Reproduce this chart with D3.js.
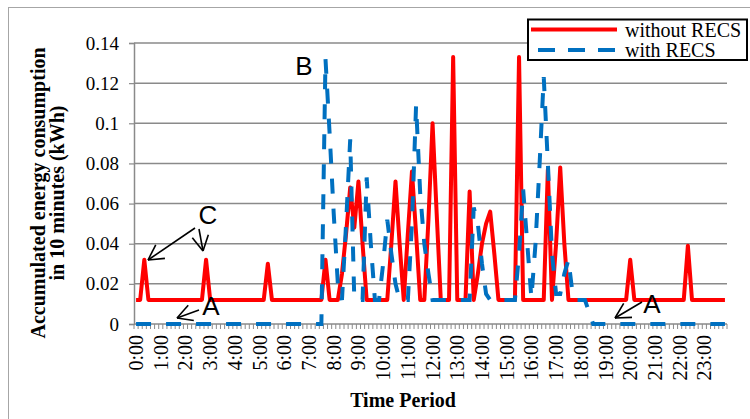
<!DOCTYPE html>
<html><head><meta charset="utf-8">
<script src="https://cdn.jsdelivr.net/npm/d3@7"></script>
<style>body{margin:0;background:#fff;} svg{display:block;}</style>
</head><body>
<svg id="chart" width="750" height="419"></svg>
<script>
// ---- data ----
const hourLabels = ["0:00","1:00","2:00","3:00","4:00","5:00","6:00","7:00","8:00","9:00","10:00","11:00",
  "12:00","13:00","14:00","15:00","16:00","17:00","18:00","19:00","20:00","21:00","22:00","23:00"];
const minuteSlots = ["00","10","20","30","40","50"];
// accumulated energy per 10-minute slot (kWh), one row per hour
const withoutRECS = [
  .012,.012,.032,.012,.012,.012,  .012,.012,.012,.012,.012,.012,
  .012,.012,.012,.012,.012,.032,  .012,.012,.012,.012,.012,.012,
  .012,.012,.012,.012,.012,.012,  .012,.012,.030,.012,.012,.012,
  .012,.012,.012,.012,.012,.012,  .012,.012,.012,.012,.032,.012,
  .012,.012,.025,.045,.068,.048,  .071,.040,.012,.012,.012,.012,
  .012,.012,.040,.071,.040,.012,  .045,.076,.045,.012,.012,.052,
  .100,.055,.012,.012,.012,.133,  .012,.012,.012,.066,.012,.025,
  .040,.050,.056,.035,.012,.012,  .012,.012,.012,.133,.012,.012,
  .012,.012,.012,.012,.077,.012,  .040,.078,.040,.012,.012,.012,
  .012,.012,.012,.012,.012,.012,  .012,.012,.012,.012,.012,.012,
  .032,.012,.012,.012,.012,.012,  .012,.012,.012,.012,.012,.012,
  .012,.012,.039,.012,.012,.012,  .012,.012,.012,.012,.012,.012
];
const withRECS = [
  0,0,0,0,0,0,  0,0,0,0,0,0,
  0,0,0,0,0,0,  0,0,0,0,0,0,
  0,0,0,0,0,0,  0,0,0,0,0,0,
  0,0,0,0,0,0,  0,0,0,0,.132,.095,
  .055,.020,.012,.050,.092,.012,  .012,.012,.073,.040,.012,.012,
  .030,.052,.035,.020,.012,.012,  .012,.050,.109,.065,.040,.025,
  .012,.012,.012,.012,.012,.012,  .012,.012,.012,.012,.058,.050,
  .030,.015,.012,.012,.012,.012,  .012,.012,.012,.035,.067,.040,
  .013,.040,.080,.123,.080,.035,  .015,.015,.025,.032,.015,.012,
  .012,.012,.006,0,0,0,  0,0,0,0,0,0,
  0,0,0,0,0,0,  0,0,0,0,0,0,
  0,0,0,0,0,0,  0,0,0,0,0,0
];
const yTicks = [0, 0.02, 0.04, 0.06, 0.08, 0.1, 0.12, 0.14];
const yTickLabels = ["0","0.02","0.04","0.06","0.08","0.1","0.12","0.14"];
const seriesNames = ["without RECS", "with RECS"];

// ---- layout ----
const svg = d3.select("#chart");
const L = 134, R = 727, T = 43, B = 324;
const slots = [];
hourLabels.forEach(h => minuteSlots.forEach(m => slots.push(h.split(":")[0] + ":" + m)));
const x = d3.scaleBand().domain(slots).range([L, R]).paddingInner(0).paddingOuter(0);
const bw = x.bandwidth();
const y = d3.scaleLinear().domain([0, 0.14]).range([B, T]);
const serif = "'Liberation Serif','Times New Roman',serif";
const sans = "'Liberation Sans',Arial,sans-serif";

// outer frame
svg.append("rect").attr("x", 8.5).attr("y", 7.5).attr("width", 800).attr("height", 500)
  .attr("fill", "none").attr("stroke", "#a6a6a6").attr("stroke-width", 1);

// gridlines
svg.append("g").selectAll("line").data(yTicks.slice(1)).join("line")
  .attr("x1", L).attr("x2", R).attr("y1", d => y(d)).attr("y2", d => y(d))
  .attr("stroke", "#8a8a8a").attr("stroke-width", 1.5);

// y axis
const yAxis = d3.axisLeft(y).tickValues(yTicks).tickFormat((d, i) => yTickLabels[i]).tickSize(5).tickPadding(10);
const gy = svg.append("g").attr("transform", `translate(${L},0)`).call(yAxis);
gy.select(".domain").attr("stroke", "#8a8a8a").attr("stroke-width", 1.5);
gy.selectAll(".tick line").attr("stroke", "#8a8a8a").attr("stroke-width", 1.2);
gy.selectAll("text").attr("font-family", serif).attr("font-size", 19).attr("fill", "#000");

// x axis: tick marks at category boundaries
const gx = svg.append("g");
gx.append("line").attr("x1", L).attr("x2", R).attr("y1", B).attr("y2", B)
  .attr("stroke", "#8a8a8a").attr("stroke-width", 1.5);
gx.selectAll("line.tk").data(slots.concat(["end"])).join("line").attr("class", "tk")
  .attr("x1", (d, i) => L + i * bw).attr("x2", (d, i) => L + i * bw)
  .attr("y1", B).attr("y2", B + 5).attr("stroke", "#8a8a8a").attr("stroke-width", 1);
gx.selectAll("text").data(hourLabels).join("text")
  .attr("transform", d => `translate(${x(d) + bw / 2 + 7},${B + 11}) rotate(-90)`)
  .attr("text-anchor", "end")
  .attr("font-family", serif).attr("font-size", 20).attr("fill", "#000")
  .text(d => d);

// axis titles
svg.append("text").attr("x", 403).attr("y", 407).attr("text-anchor", "middle")
  .attr("font-family", serif).attr("font-weight", "bold").attr("font-size", 20).text("Time Period");
const yt = svg.append("text").attr("transform", "translate(0,193) rotate(-90)")
  .attr("text-anchor", "middle").attr("font-family", serif).attr("font-weight", "bold").attr("font-size", 20);
yt.append("tspan").attr("x", 0).attr("y", 45).text("Accumulated energy consumption");
yt.append("tspan").attr("x", 0).attr("y", 64).text("in 10 minutes (kWh)");

// lines
const line = d3.line().x((d, i) => x(slots[i]) + bw / 2).y(d => y(d));
svg.append("path").datum(withoutRECS).attr("d", line).attr("fill", "none")
  .attr("stroke", "#ff0000").attr("stroke-width", 4).attr("stroke-linejoin", "round");
svg.append("path").datum(withRECS).attr("d", line).attr("fill", "none")
  .attr("stroke", "#0070c0").attr("stroke-width", 4).attr("stroke-dasharray", "15,15");

// legend
const lg = svg.append("g");
lg.append("rect").attr("x", 528).attr("y", 19.5).attr("width", 219).attr("height", 40.5)
  .attr("fill", "#fff").attr("stroke", "#000").attr("stroke-width", 2);
lg.append("line").attr("x1", 531).attr("x2", 617).attr("y1", 29.5).attr("y2", 29.5)
  .attr("stroke", "#ff0000").attr("stroke-width", 4);
lg.append("line").attr("x1", 538).attr("x2", 617).attr("y1", 50).attr("y2", 50)
  .attr("stroke", "#0070c0").attr("stroke-width", 4).attr("stroke-dasharray", "17,13");
lg.append("text").attr("x", 625).attr("y", 36.5).attr("font-family", serif).attr("font-size", 20).text(seriesNames[0]);
lg.append("text").attr("x", 625).attr("y", 56.5).attr("font-family", serif).attr("font-size", 20).text(seriesNames[1]);

// annotations
function label(t, cx, by) {
  svg.append("text").attr("x", cx).attr("y", by).attr("text-anchor", "middle")
    .attr("font-family", sans).attr("font-size", 26).attr("fill", "#000").text(t);
}
function arrow(x1, y1, x2, y2) {
  svg.append("line").attr("x1", x1).attr("y1", y1).attr("x2", x2).attr("y2", y2)
    .attr("stroke", "#000").attr("stroke-width", 1.6);
  const a = Math.atan2(y1 - y2, x1 - x2), len = 17, sp = 0.5;
  [a - sp, a + sp].forEach(b => {
    svg.append("line").attr("x1", x2).attr("y1", y2)
      .attr("x2", x2 + len * Math.cos(b)).attr("y2", y2 + len * Math.sin(b))
      .attr("stroke", "#000").attr("stroke-width", 1.6);
  });
}
label("B", 304, 75);
label("C", 208, 224);
arrow(195, 228, 148, 260);
arrow(199, 229, 203, 251);
label("A", 211, 315);
arrow(199, 310, 177, 318);
label("A", 652, 313);
arrow(642, 302, 615, 318);
</script>
</body></html>
